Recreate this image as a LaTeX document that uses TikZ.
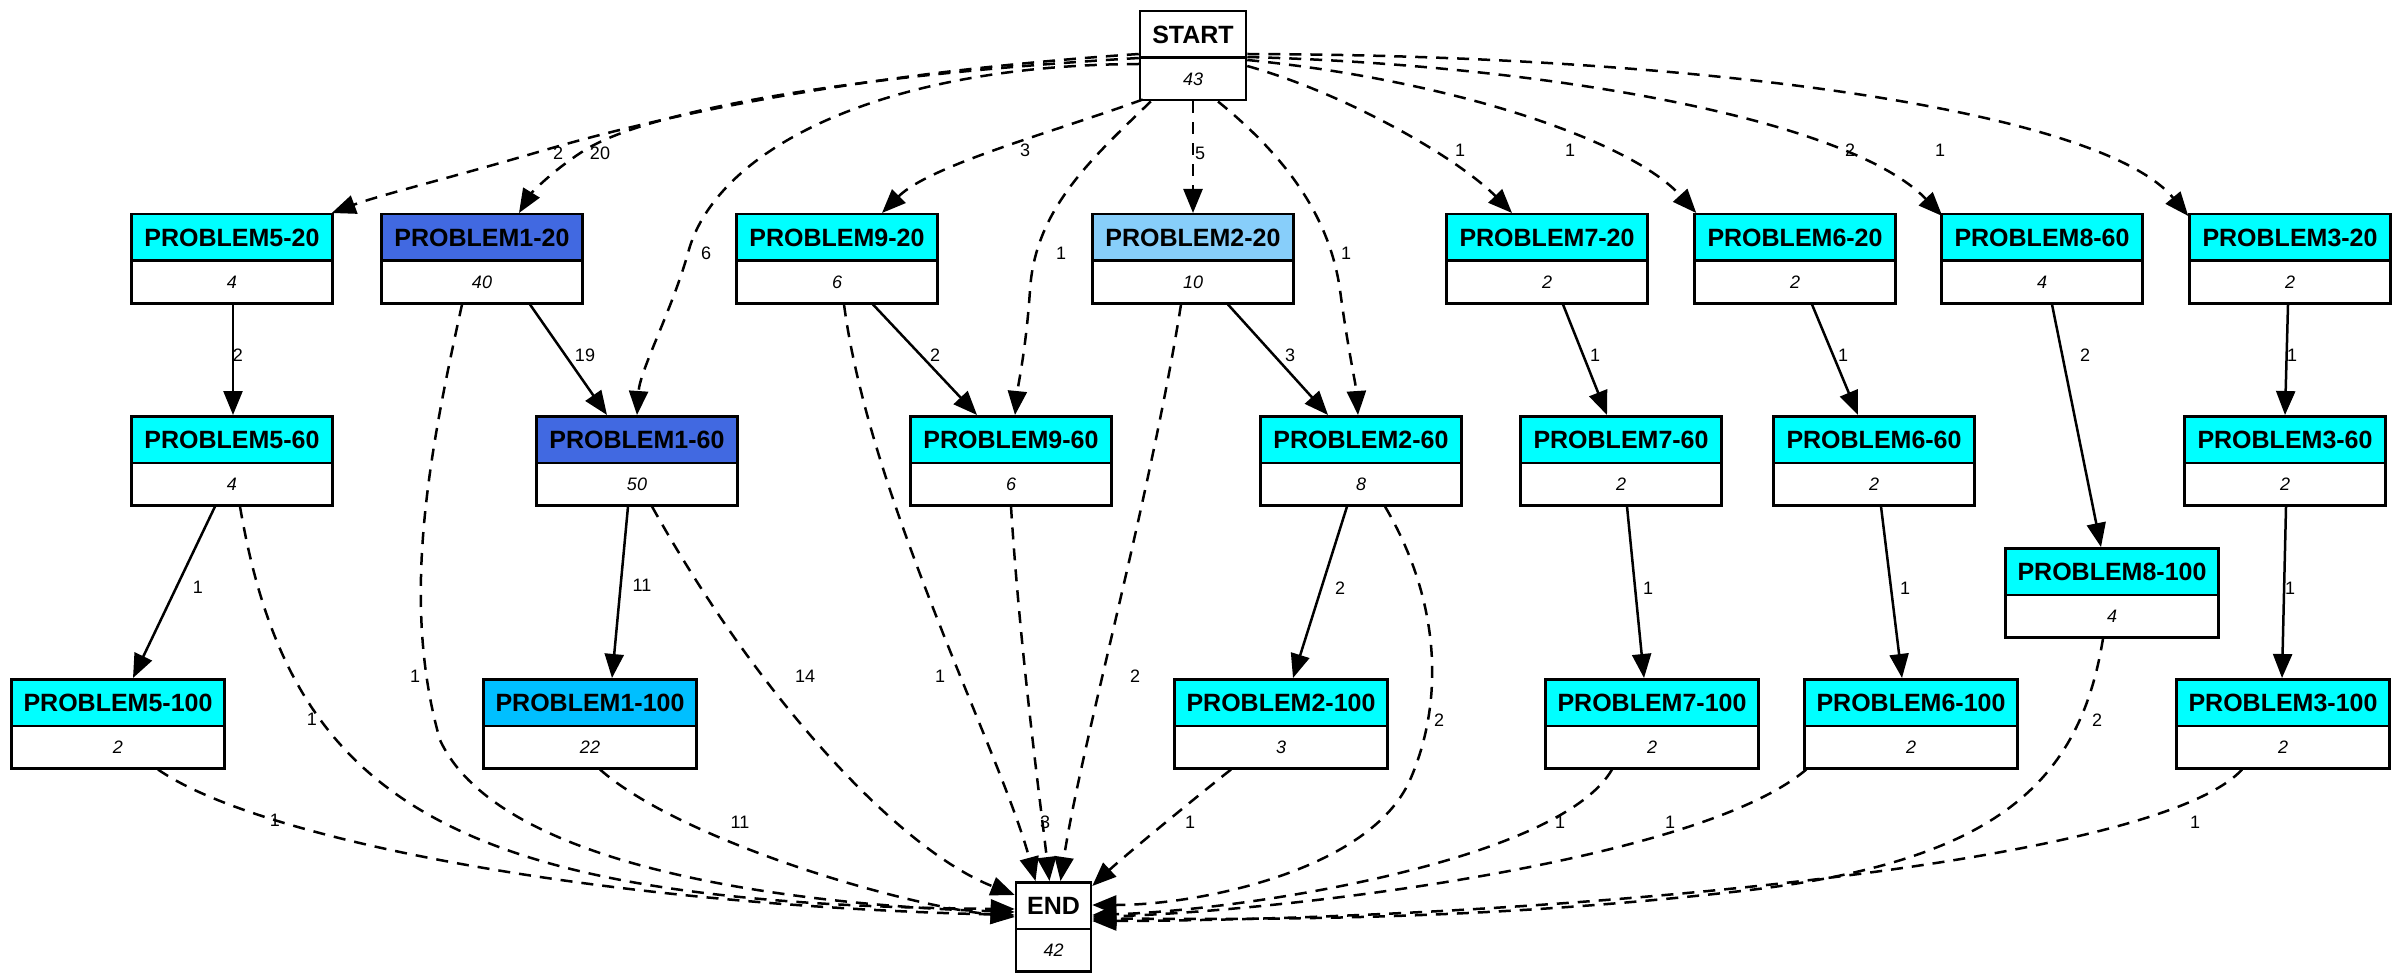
\documentclass[tikz,border=0pt]{standalone}
\usepackage{fontspec}
\setmainfont{Liberation Sans}
\usetikzlibrary{shapes.multipart,arrows.meta,calc}
\definecolor{pcyan}{RGB}{0,255,255}
\definecolor{proyal}{RGB}{65,105,225}
\definecolor{plsky}{RGB}{135,206,250}
\definecolor{pdsky}{RGB}{0,191,255}
\newcommand{\hfnt}{\fontsize{25}{30}\selectfont\bfseries}
\newcommand{\bfnt}{\fontsize{18}{20}\selectfont\mdseries\itshape}
\newcommand{\pnode}[6]{\node[pn, rectangle split part fill={#2,white}, minimum width=#3pt] (#1) at #4 {\rule[-13pt]{0pt}{44pt}#5\nodepart{two}\bfnt\rule[-13.5pt]{0pt}{40pt}#6};}
\begin{document}
\begin{tikzpicture}[x=1pt,y=-1pt,
  pn/.style={rectangle split, rectangle split parts=2, draw, line width=2.5pt,
    inner xsep=0pt, inner ysep=0pt, anchor=north, font=\hfnt},
  lbl/.style={font=\fontsize{18}{20}\selectfont, inner sep=0pt},
  e/.style={line width=2.5pt, -{Triangle[length=24pt,width=19pt]}},
  d/.style={e, dash pattern=on 12pt off 9pt}]
\useasboundingbox (0,0) rectangle (2400,976);
% nodes
\pnode{start}{white}{106}{(1193,10)}{START}{43}
\pnode{p520}{pcyan}{201}{(232,213)}{PROBLEM5-20}{4}
\pnode{p120}{proyal}{201}{(482,213)}{PROBLEM1-20}{40}
\pnode{p920}{pcyan}{201}{(837,213)}{PROBLEM9-20}{6}
\pnode{p220}{plsky}{201}{(1193,213)}{PROBLEM2-20}{10}
\pnode{p720}{pcyan}{201}{(1547,213)}{PROBLEM7-20}{2}
\pnode{p620}{pcyan}{201}{(1795,213)}{PROBLEM6-20}{2}
\pnode{p860}{pcyan}{201}{(2042,213)}{PROBLEM8-60}{4}
\pnode{p320}{pcyan}{201}{(2290,213)}{PROBLEM3-20}{2}
\pnode{p560}{pcyan}{201}{(232,415)}{PROBLEM5-60}{4}
\pnode{p160}{proyal}{201}{(637,415)}{PROBLEM1-60}{50}
\pnode{p960}{pcyan}{201}{(1011,415)}{PROBLEM9-60}{6}
\pnode{p260}{pcyan}{201}{(1361,415)}{PROBLEM2-60}{8}
\pnode{p760}{pcyan}{201}{(1621,415)}{PROBLEM7-60}{2}
\pnode{p660}{pcyan}{201}{(1874,415)}{PROBLEM6-60}{2}
\pnode{p360}{pcyan}{201}{(2285,415)}{PROBLEM3-60}{2}
\pnode{p8100}{pcyan}{213}{(2112,547)}{PROBLEM8-100}{4}
\pnode{p5100}{pcyan}{213}{(118,678)}{PROBLEM5-100}{2}
\pnode{p1100}{pdsky}{213}{(590,678)}{PROBLEM1-100}{22}
\pnode{p2100}{pcyan}{213}{(1281,678)}{PROBLEM2-100}{3}
\pnode{p7100}{pcyan}{213}{(1652,678)}{PROBLEM7-100}{2}
\pnode{p6100}{pcyan}{213}{(1911,678)}{PROBLEM6-100}{2}
\pnode{p3100}{pcyan}{213}{(2283,678)}{PROBLEM3-100}{2}
\pnode{end}{white}{75}{(1053.5,881)}{END}{42}
% START edges
\draw[d] ($(start.north west)+(0,44)$) .. controls (900,70) and (700,105) .. (545,150) .. controls (450,178) and (380,195) .. ($(p520.north east)+(-2,0)$);
\draw[d] ($(start.north west)+(0,48)$) .. controls (850,75) and (650,110) .. (585,150) .. controls (550,172) and (530,195) .. ($(p120.north)+(37,0)$);
\draw[d] ($(start.north west)+(0,54)$) .. controls (880,65) and (715,150) .. (688,253) .. controls (672,310) and (640,370) .. (p160.north);
\draw[d] ($(start.south west)+(4,-2)$) .. controls (1060,130) and (930,165) .. ($(p920.north)+(45,0)$);
\draw[d] ($(start.south west)+(12,0)$) .. controls (1090,160) and (1035,210) .. (1030,290) .. controls (1026,350) and (1018,385) .. ($(p960.north)+(4,0)$);
\draw[d] (start.south) -- (p220.north);
\draw[d] ($(start.south)+(25,0)$) .. controls (1290,160) and (1330,220) .. (1340,290) .. controls (1348,350) and (1356,385) .. ($(p260.north)+(-3,0)$);
\draw[d] ($(start.north east)+(0,56)$) .. controls (1350,95) and (1460,160) .. ($(p720.north)+(-35,0)$);
\draw[d] ($(start.north east)+(0,50)$) .. controls (1450,80) and (1630,140) .. ($(p620.north west)+(3,0)$);
\draw[d] ($(start.north east)+(0,47)$) .. controls (1550,65) and (1850,120) .. ($(p860.north west)+(2,3)$);
\draw[d] ($(start.north east)+(0,44)$) .. controls (1700,55) and (2100,110) .. ($(p320.north west)+(0,3)$);
% solid edges
\draw[e] ($(p520.south)+(1,0)$) -- ($(p560.north)+(1,0)$);
\draw[e] ($(p120.south)+(48,0)$) -- ($(p160.north)+(-30,0)$);
\draw[e] ($(p920.south)+(36,0)$) -- ($(p960.north)+(-34,0)$);
\draw[e] ($(p220.south)+(35,0)$) -- ($(p260.north)+(-33,0)$);
\draw[e] ($(p720.south)+(16,0)$) -- ($(p760.north)+(-14,0)$);
\draw[e] ($(p620.south)+(17,0)$) -- ($(p660.north)+(-16,0)$);
\draw[e] ($(p860.south)+(10,0)$) -- ($(p8100.north)+(-11,0)$);
\draw[e] ($(p320.south)+(-2,0)$) -- (p360.north);
\draw[e] ($(p560.south)+(-17,0)$) -- ($(p5100.north)+(15,0)$);
\draw[e] ($(p160.south)+(-9,0)$) -- ($(p1100.north)+(22,0)$);
\draw[e] ($(p260.south)+(-14,0)$) -- ($(p2100.north)+(12,0)$);
\draw[e] ($(p760.south)+(6,0)$) -- ($(p7100.north)+(-8,0)$);
\draw[e] ($(p660.south)+(7,0)$) -- ($(p6100.north)+(-9,0)$);
\draw[e] ($(p360.south)+(1,0)$) -- ($(p3100.north)+(-1,0)$);
% dashed to END
\draw[d] ($(p5100.south)+(40,0)$) .. controls (260,840) and (600,905) .. ($(end.north west)+(0,34)$);
\draw[d] ($(p560.south)+(8,0)$) .. controls (290,800) and (450,905) .. ($(end.north west)+(0,28)$);
\draw[d] ($(p120.south)+(-20,0)$) .. controls (430,450) and (400,600) .. (440,740) .. controls (500,870) and (800,905) .. ($(end.north west)+(0,31)$);
\draw[d] ($(p1100.south)+(10,0)$) .. controls (680,840) and (900,905) .. ($(end.north west)+(0,36)$);
\draw[d] ($(p160.south)+(15,0)$) .. controls (760,700) and (900,850) .. ($(end.north west)+(0,14)$);
\draw[d] ($(p920.south)+(7,0)$) .. controls (870,500) and (1000,750) .. ($(end.north)+(-18,0)$);
\draw[d] (p960.south) .. controls (1020,650) and (1040,800) .. ($(end.north)+(-4,0)$);
\draw[d] ($(p220.south)+(-12,0)$) .. controls (1150,500) and (1080,750) .. ($(end.north)+(7,0)$);
\draw[d] ($(p2100.south)+(-50,0)$) .. controls (1180,810) and (1120,860) .. ($(end.north east)+(0,5)$);
\draw[d] ($(p260.south)+(24,0)$) .. controls (1440,600) and (1445,700) .. (1410,780) .. controls (1370,870) and (1200,905) .. ($(end.north east)+(0,24)$);
\draw[d] ($(p7100.south)+(-40,0)$) .. controls (1560,860) and (1250,910) .. ($(end.north east)+(0,34)$);
\draw[d] ($(p6100.south west)+(3,0)$) .. controls (1700,860) and (1300,910) .. ($(end.north east)+(0,36)$);
\draw[d] ($(p8100.south)+(-9,0)$) .. controls (2080,780) and (2000,860) .. (1750,890) .. controls (1450,925) and (1200,918) .. ($(end.north east)+(0,38)$);
\draw[d] ($(p3100.south)+(-41,0)$) .. controls (2150,870) and (1500,920) .. ($(end.north east)+(0,40)$);
% labels
\node[lbl] (la1) at (558,153) {2};
\node[lbl] (la2) at (600,153) {20};
\node[lbl] (la3) at (706,253) {6};
\node[lbl] (la4) at (1025,150) {3};
\node[lbl] (la5) at (1061,253) {1};
\node[lbl] (la6) at (1200,153) {5};
\node[lbl] (la7) at (1346,253) {1};
\node[lbl] (la8) at (1460,150) {1};
\node[lbl] (la9) at (1570,150) {1};
\node[lbl] (la10) at (1850,150) {2};
\node[lbl] (la11) at (1940,150) {1};
\node[lbl] (lb1) at (238,355) {2};
\node[lbl] (lb2) at (585,355) {19};
\node[lbl] (lb3) at (935,355) {2};
\node[lbl] (lb4) at (1290,355) {3};
\node[lbl] (lb5) at (1595,355) {1};
\node[lbl] (lb6) at (1843,355) {1};
\node[lbl] (lb7) at (2085,355) {2};
\node[lbl] (lb8) at (2292,355) {1};
\node[lbl] (lc1) at (198,587) {1};
\node[lbl] (lc2) at (642,585) {11};
\node[lbl] (lc3) at (1340,588) {2};
\node[lbl] (lc4) at (1648,588) {1};
\node[lbl] (lc5) at (1905,588) {1};
\node[lbl] (lc6) at (2290,588) {1};
\node[lbl] (ld1) at (312,719) {1};
\node[lbl] (ld2) at (415,676) {1};
\node[lbl] (ld3) at (805,676) {14};
\node[lbl] (ld4) at (740,822) {11};
\node[lbl] (ld5) at (940,676) {1};
\node[lbl] (ld6) at (1045,822) {3};
\node[lbl] (ld7) at (1135,676) {2};
\node[lbl] (ld8) at (1190,822) {1};
\node[lbl] (ld9) at (1439,720) {2};
\node[lbl] (ld10) at (1560,822) {1};
\node[lbl] (ld11) at (1670,822) {1};
\node[lbl] (ld12) at (2097,720) {2};
\node[lbl] (ld13) at (2195,822) {1};
\node[lbl] (ld14) at (275,820) {1};
\end{tikzpicture}
\end{document}
